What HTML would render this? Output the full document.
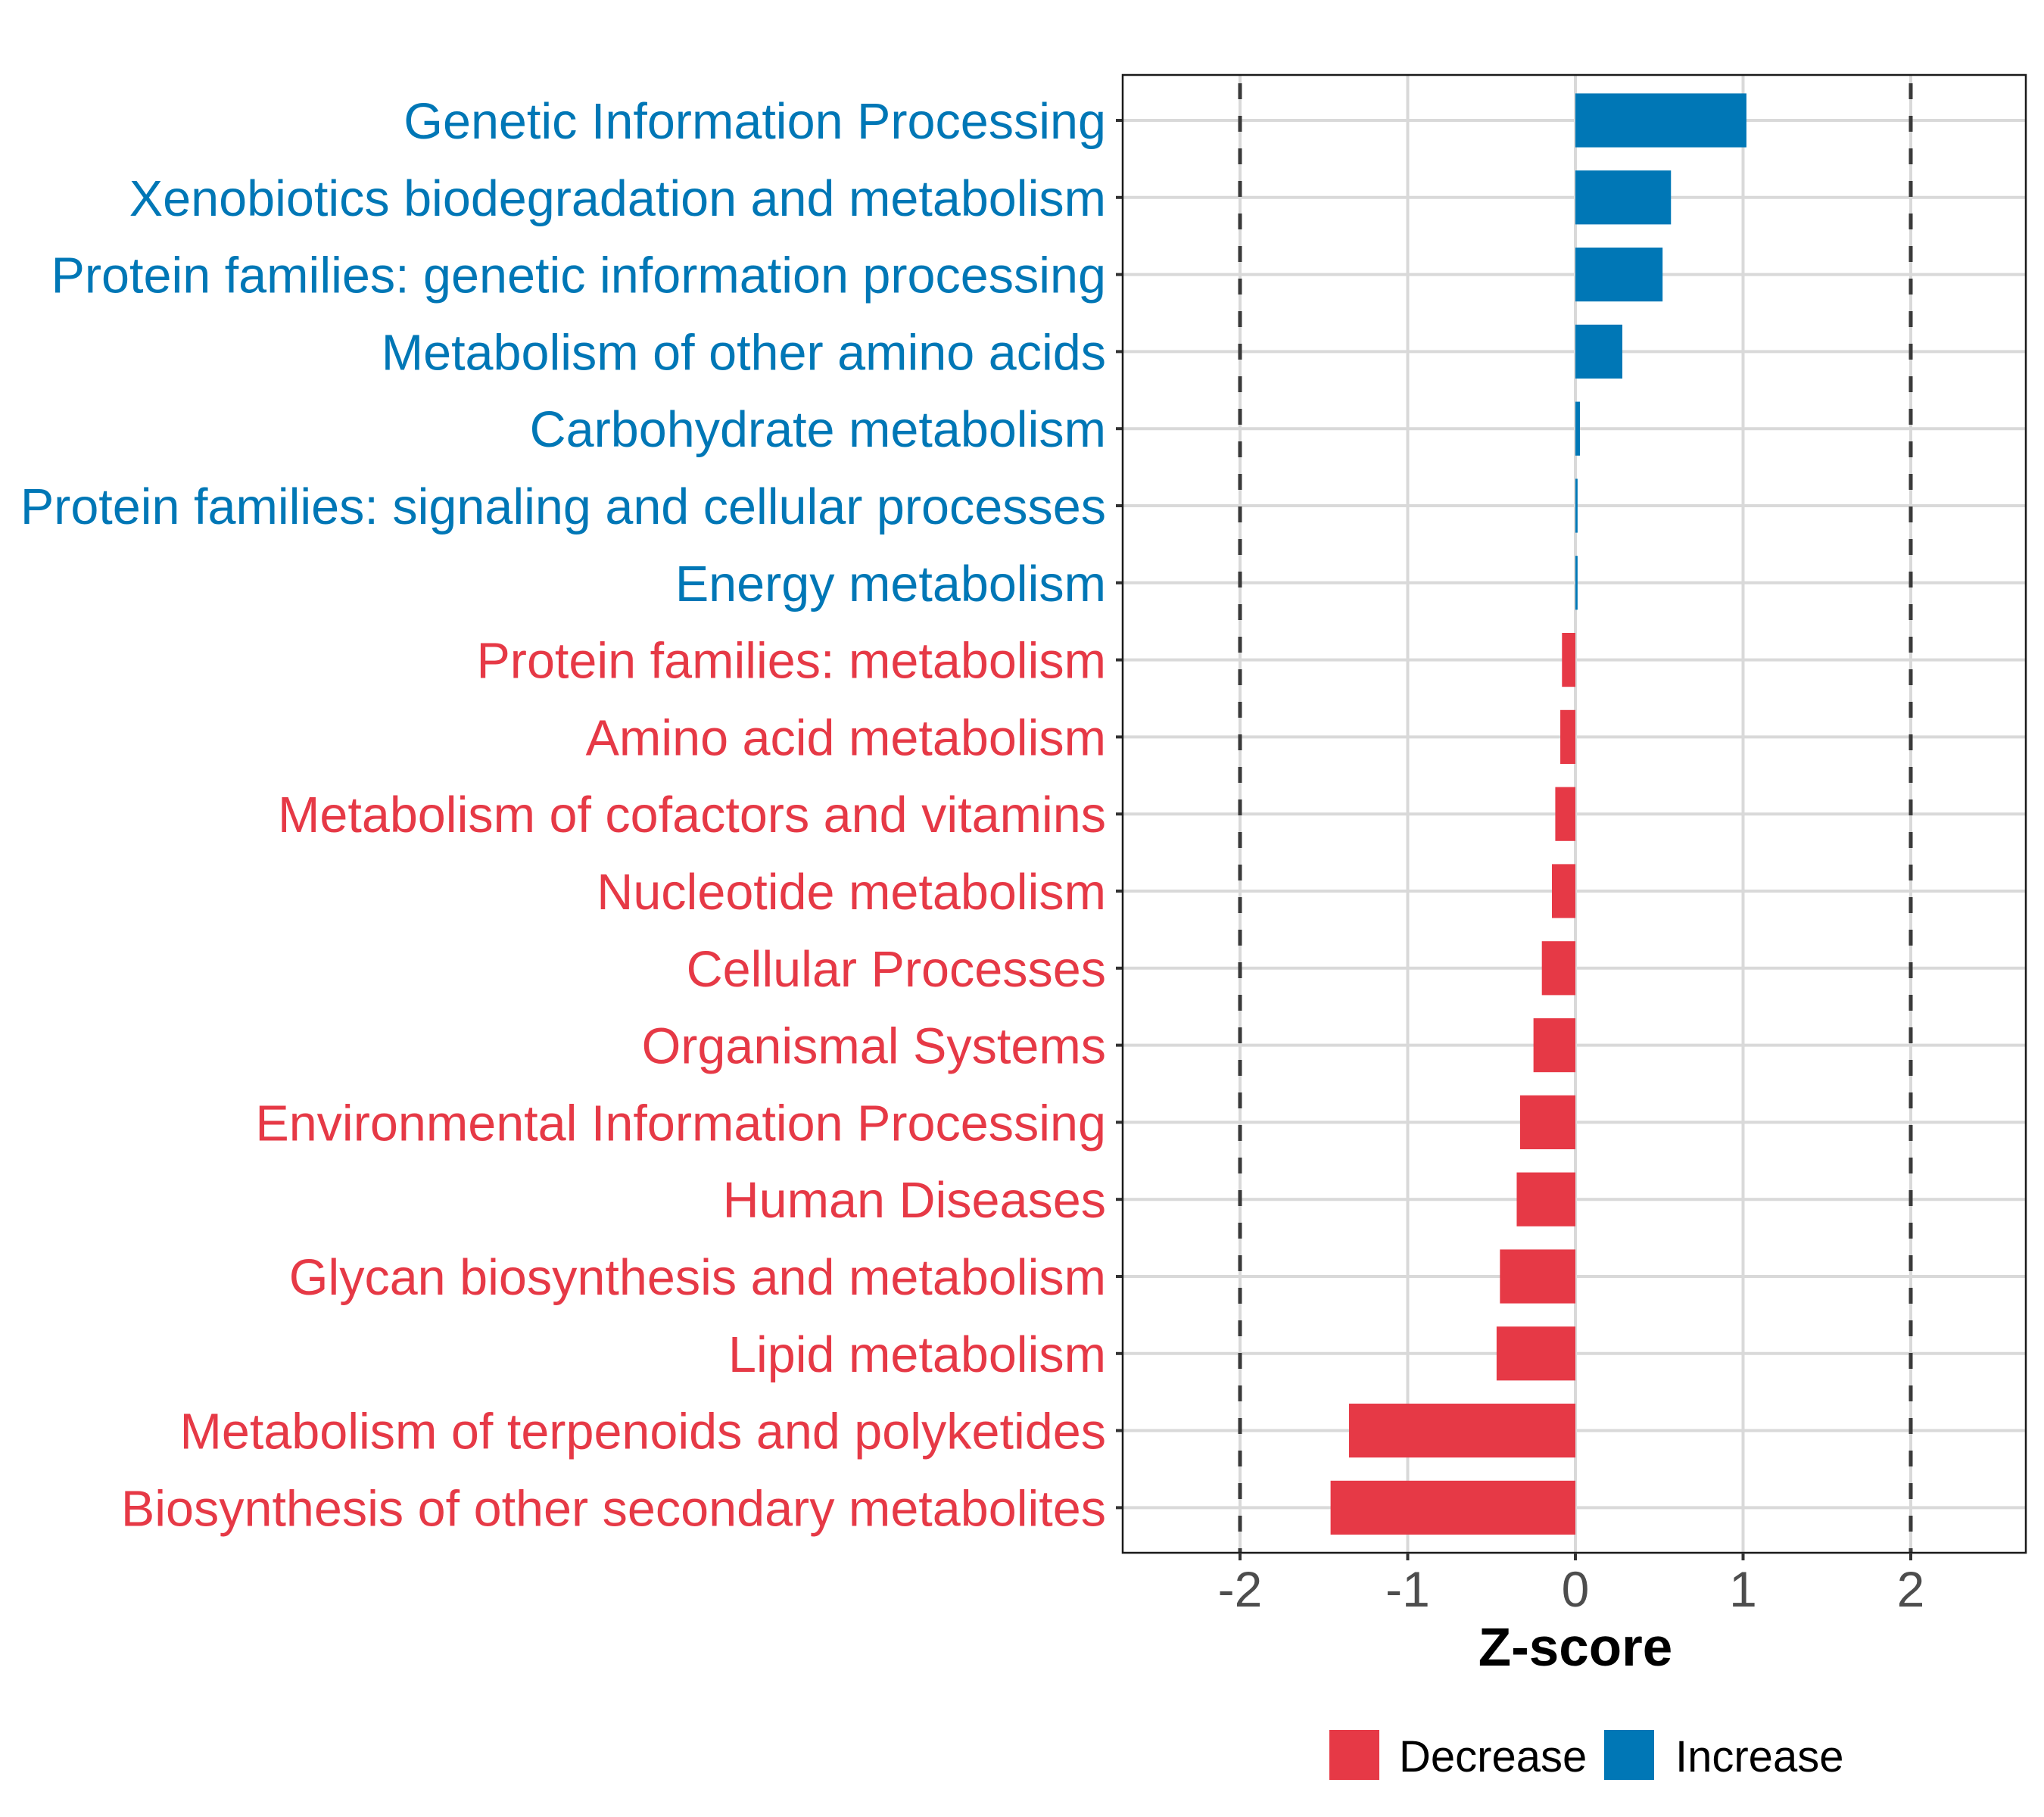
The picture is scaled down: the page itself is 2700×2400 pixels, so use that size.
<!DOCTYPE html>
<html><head><meta charset="utf-8"><style>
html,body{margin:0;padding:0;background:#fff;}
svg{display:block;font-family:"Liberation Sans",sans-serif;}
</style></head><body>
<svg id="chart" width="2700" height="2400" viewBox="0 0 2700 2400"></svg>
<script>
const categories = ["Genetic Information Processing","Xenobiotics biodegradation and metabolism","Protein families: genetic information processing","Metabolism of other amino acids","Carbohydrate metabolism","Protein families: signaling and cellular processes","Energy metabolism","Protein families: metabolism","Amino acid metabolism","Metabolism of cofactors and vitamins","Nucleotide metabolism","Cellular Processes","Organismal Systems","Environmental Information Processing","Human Diseases","Glycan biosynthesis and metabolism","Lipid metabolism","Metabolism of terpenoids and polyketides","Biosynthesis of other secondary metabolites"];
const zscores = [1.02,0.57,0.52,0.28,0.027,0.013,0.013,-0.08,-0.09,-0.12,-0.14,-0.2,-0.25,-0.33,-0.35,-0.45,-0.47,-1.35,-1.46];
const xTicks = [-2,-1,0,1,2];
const xTickLabels = ["-2","-1","0","1","2"];
const thresholds = [-2,2];

const NS="http://www.w3.org/2000/svg";
const svg=document.getElementById('chart');
const L=1483,R=2676,T=99,B=2051;
const X0=2081,U=221.5;
const x=v=>X0+v*U;
const y0=159,step=101.8;
const y=i=>y0+i*step;
const BLUE="#0077b6",RED="#e63946";
function mk(tag,attrs,parent){const e=document.createElementNS(NS,tag);for(const k in attrs)e.setAttribute(k,attrs[k]);(parent||svg).appendChild(e);return e;}

const panel=mk('rect',{x:L,y:T,width:R-L,height:B-T,fill:'#fff'});



xTicks.forEach((t,i)=>{
  const g=mk('line',{x1:x(t),x2:x(t),y1:T,y2:B,stroke:'#d9d9d9','stroke-width':4});
  
  
});
categories.forEach((c,i)=>{
  const g=mk('line',{x1:L,x2:R,y1:y(i),y2:y(i),stroke:'#d9d9d9','stroke-width':4});
  
  
});
categories.forEach((c,i)=>{
  const v=zscores[i];
  const bx=Math.min(x(0),x(v)),bw=Math.abs(x(v)-x(0));
  const r=mk('rect',{x:bx,y:y(i)-35.6,width:Math.max(bw,1),height:71.2,fill:v>=0?BLUE:RED});
  
  
  const lbl=mk('text',{x:1461,y:y(i)+24,'text-anchor':'end','font-size':66.5,fill:v>=0?BLUE:RED});
  lbl.textContent=c;
  
  
  const tk=mk('line',{x1:1474,x2:L,y1:y(i),y2:y(i),stroke:'#333','stroke-width':4});
  
  
});
thresholds.forEach(t=>{
  const d=mk('line',{x1:x(t),x2:x(t),y1:T,y2:B,stroke:'#3a3a3a','stroke-width':5,'stroke-dasharray':'21 22','stroke-dashoffset':'-11'});
  
  
});
const border=mk('rect',{x:L,y:T,width:R-L,height:B-T,fill:'none',stroke:'#1a1a1a','stroke-width':2.5});



xTicks.forEach((t,i)=>{
  const tk=mk('line',{x1:x(t),x2:x(t),y1:B,y2:B+10,stroke:'#333','stroke-width':4});
  
  
  const tl=mk('text',{x:x(t),y:2122,'text-anchor':'middle','font-size':66,fill:'#4d4d4d'});
  tl.textContent=xTickLabels[i];
  
  
});
const xt=mk('text',{x:2081,y:2200,'text-anchor':'middle','font-size':71,'font-weight':'bold',fill:'#000'});
xt.textContent='Z-score';



const lg=mk('g',{});


const r1=mk('rect',{x:1756,y:2285,width:66,height:66,fill:RED},lg);


const t1=mk('text',{x:1848,y:2340,'font-size':58,fill:'#000'},lg);
t1.textContent='Decrease';


const r2=mk('rect',{x:2119,y:2285,width:66,height:66,fill:BLUE},lg);


const t2=mk('text',{x:2213,y:2340,'font-size':58,fill:'#000'},lg);
t2.textContent='Increase';


</script>
</body></html>
